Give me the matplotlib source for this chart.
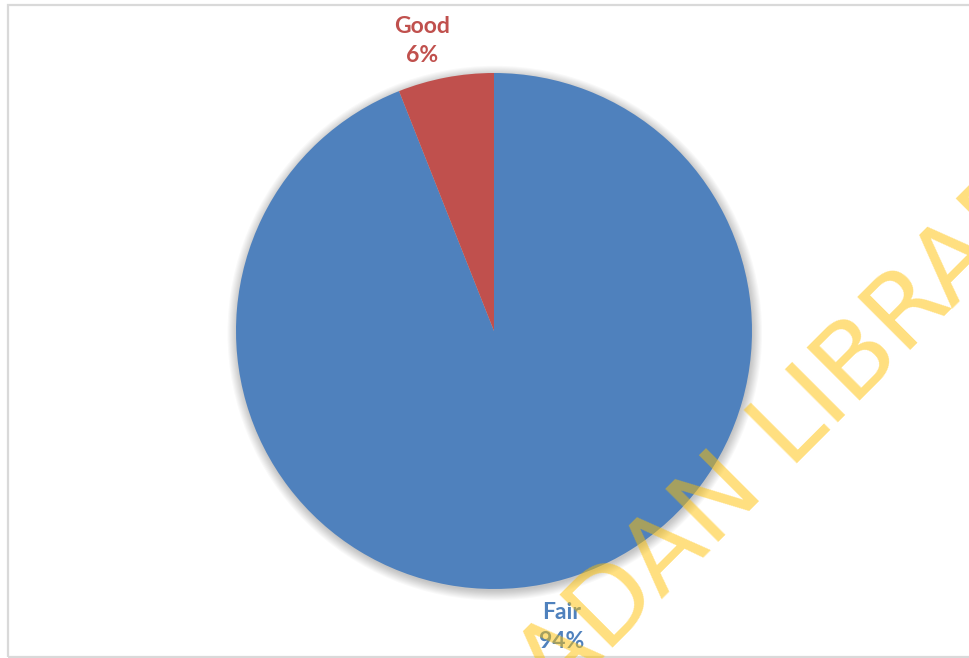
import numpy as np
import matplotlib.pyplot as plt
from matplotlib.patches import Circle, Rectangle

# Rating shares
labels = ['Fair', 'Good']
shares = [94, 6]
colors = ['#4F81BD', '#C0504D']

W, H = 969, 658
fig = plt.figure(figsize=(W / 100, H / 100), dpi=100)
fig.patch.set_facecolor('white')

# pie centre and radius in pixels
cx, cy, rad = 494, 658 - 331, 258
ax = fig.add_axes([(cx - rad) / W, (cy - rad) / H, 2 * rad / W, 2 * rad / H])

# soft shadow behind the pie
for i in range(10):
    ax.add_patch(Circle((0.003, -0.008), 1 + 0.004 * i, color='black',
                        alpha=0.022, lw=0, zorder=0, clip_on=False))

wedges, _ = ax.pie(shares, colors=colors, startangle=90, counterclock=False,
                   radius=1, wedgeprops=dict(linewidth=0))
for w in wedges:
    w.set_zorder(2)

offsets = {'Fair': (12, -3), 'Good': (-16, -3)}
for w, lab, val, col in zip(wedges, labels, shares, colors):
    mid = np.deg2rad((w.theta1 + w.theta2) / 2)
    r = 1.155
    ax.annotate(f'{lab}\n{val}%', xy=(r * np.cos(mid), r * np.sin(mid)),
                xytext=offsets[lab], textcoords='offset pixels',
                ha='center', va='center', color=col, fontsize=16.5,
                fontweight='bold', family='Lato', linespacing=1.45,
                annotation_clip=False)

ax.set_xlim(-1, 1)
ax.set_ylim(-1, 1)
ax.set_aspect('equal')
ax.axis('off')

# chart border
fig.patches.append(Rectangle((8 / W, 1 - 657 / H), 1.2, (657 - 5) / H,
                             transform=fig.transFigure, fill=False,
                             edgecolor='#D9D9D9', linewidth=1.6))

# library watermark
fig.text(484 / W, 1 - 778 / H, 'IBADAN LIBRARY', rotation=45,
         rotation_mode='anchor', ha='left', va='baseline',
         fontsize=75, family='DejaVu Sans', color='#FFC000', alpha=0.5,
         zorder=5)

fig.savefig('out.png', dpi=100)
